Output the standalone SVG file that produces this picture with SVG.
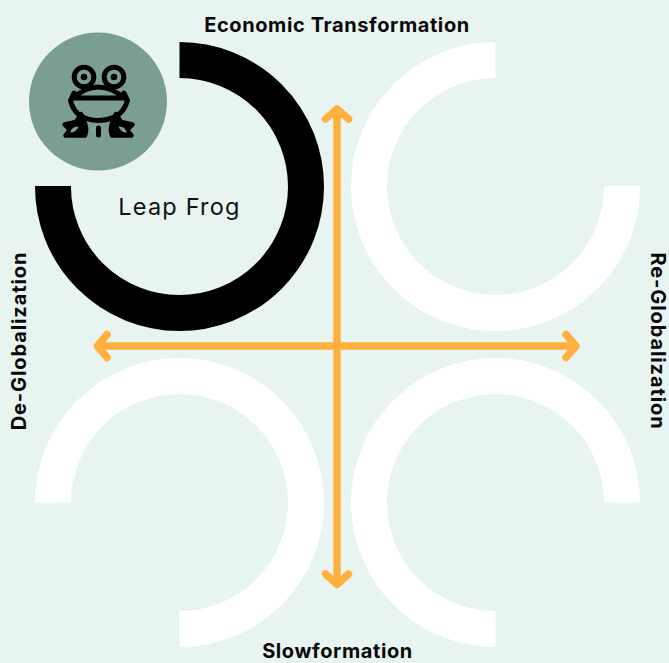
<svg xmlns="http://www.w3.org/2000/svg" width="669" height="663" viewBox="0 0 669 663">
<style>
.ring{fill:none;stroke:#fff;stroke-width:36}
.ax{fill:none;stroke:#ffb03f;stroke-width:7.500;stroke-linecap:round;stroke-linejoin:round}
.lb{font-family:"Inter","Liberation Sans",sans-serif;font-weight:700;font-size:20px;letter-spacing:.6px;fill:#0a0a0a}
.fr{fill:none;stroke:#000;stroke-width:5;stroke-linecap:round;stroke-linejoin:round}
.ft{fill:#000;stroke:#000;stroke-width:4.500;stroke-linejoin:round}
.lf{fill:#7a9e90}
</style>
<rect width="669" height="663" fill="#e8f4ef"/>
<g id="ring-leap-frog"><path class="ring" style="stroke:#000" d="M179.500 60A126.500 126.500 0 1 1 53 186"/></g>
<g id="ring-top-right"><path class="ring" d="M495.500 60A126.500 126.500 0 1 0 622 186"/></g>
<g id="ring-bottom-left"><path class="ring" d="M53 502.500A126.500 126.500 0 1 1 179.500 629"/></g>
<g id="ring-bottom-right"><path class="ring" d="M622 502.500A126.500 126.500 0 1 0 495.500 629"/></g>
<g id="connectors">
<path class="ax" d="M337 109V584.500M325.500 119L337 109L348.500 119M325.500 574L337 584.500L348.500 574"/>
<path class="ax" d="M97.500 346H576M107 334.500L97.500 346L107 357.500M566 334.500L576 346L566 357.500"/>
</g>
<g id="frog-badge">
<circle cx="98" cy="101.500" r="69" fill="#7a9e90"/>
<circle class="fr" cx="84" cy="77" r="9.800"/>
<circle class="fr" cx="114" cy="77" r="9.800"/>
<circle cx="84" cy="77" r="3.300"/>
<circle cx="114" cy="77" r="3.300"/>
<path class="fr" d="M73 98H124M73 98Q98.500 76 124 98M74 93L70.500 100.500Q75 120 98.500 120.500Q122 120 127.500 100.500L124 93"/>
<path class="ft" d="M81 114L76 122L64.500 124.500L70 130L65.500 135.500H85Q88 128 83 119Z"/>
<path class="ft" d="M116 114L121 122L132.500 124.500L127 130L131.500 135.500H112Q109 128 114 119Z"/>
<path class="lf" d="M70 132.500Q72.500 125.500 78.500 126.500Q76.500 132.500 70 132.500ZM127 132.500Q124.500 125.500 118.500 126.500Q120.500 132.500 127 132.500Z"/>
<path class="fr" d="M98.500 128V135"/>
</g>
<g id="leap-frog-label"><text x="179.500" y="215" text-anchor="middle" font-family="Inter,'Liberation Sans',sans-serif" font-size="23.500" letter-spacing="1.200" fill="#111">Leap Frog</text></g>
<g id="axis-labels">
<text class="lb" x="337" y="32" text-anchor="middle">Economic Transformation</text>
<text class="lb" x="337.500" y="658" text-anchor="middle">Slowformation</text>
<text class="lb" style="letter-spacing:.9px" transform="translate(26 341) rotate(-90)" text-anchor="middle">De-Globalization</text>
<text class="lb" style="letter-spacing:.9px" transform="translate(651 341) rotate(90)" text-anchor="middle">Re-Globalization</text>
</g>
</svg>
